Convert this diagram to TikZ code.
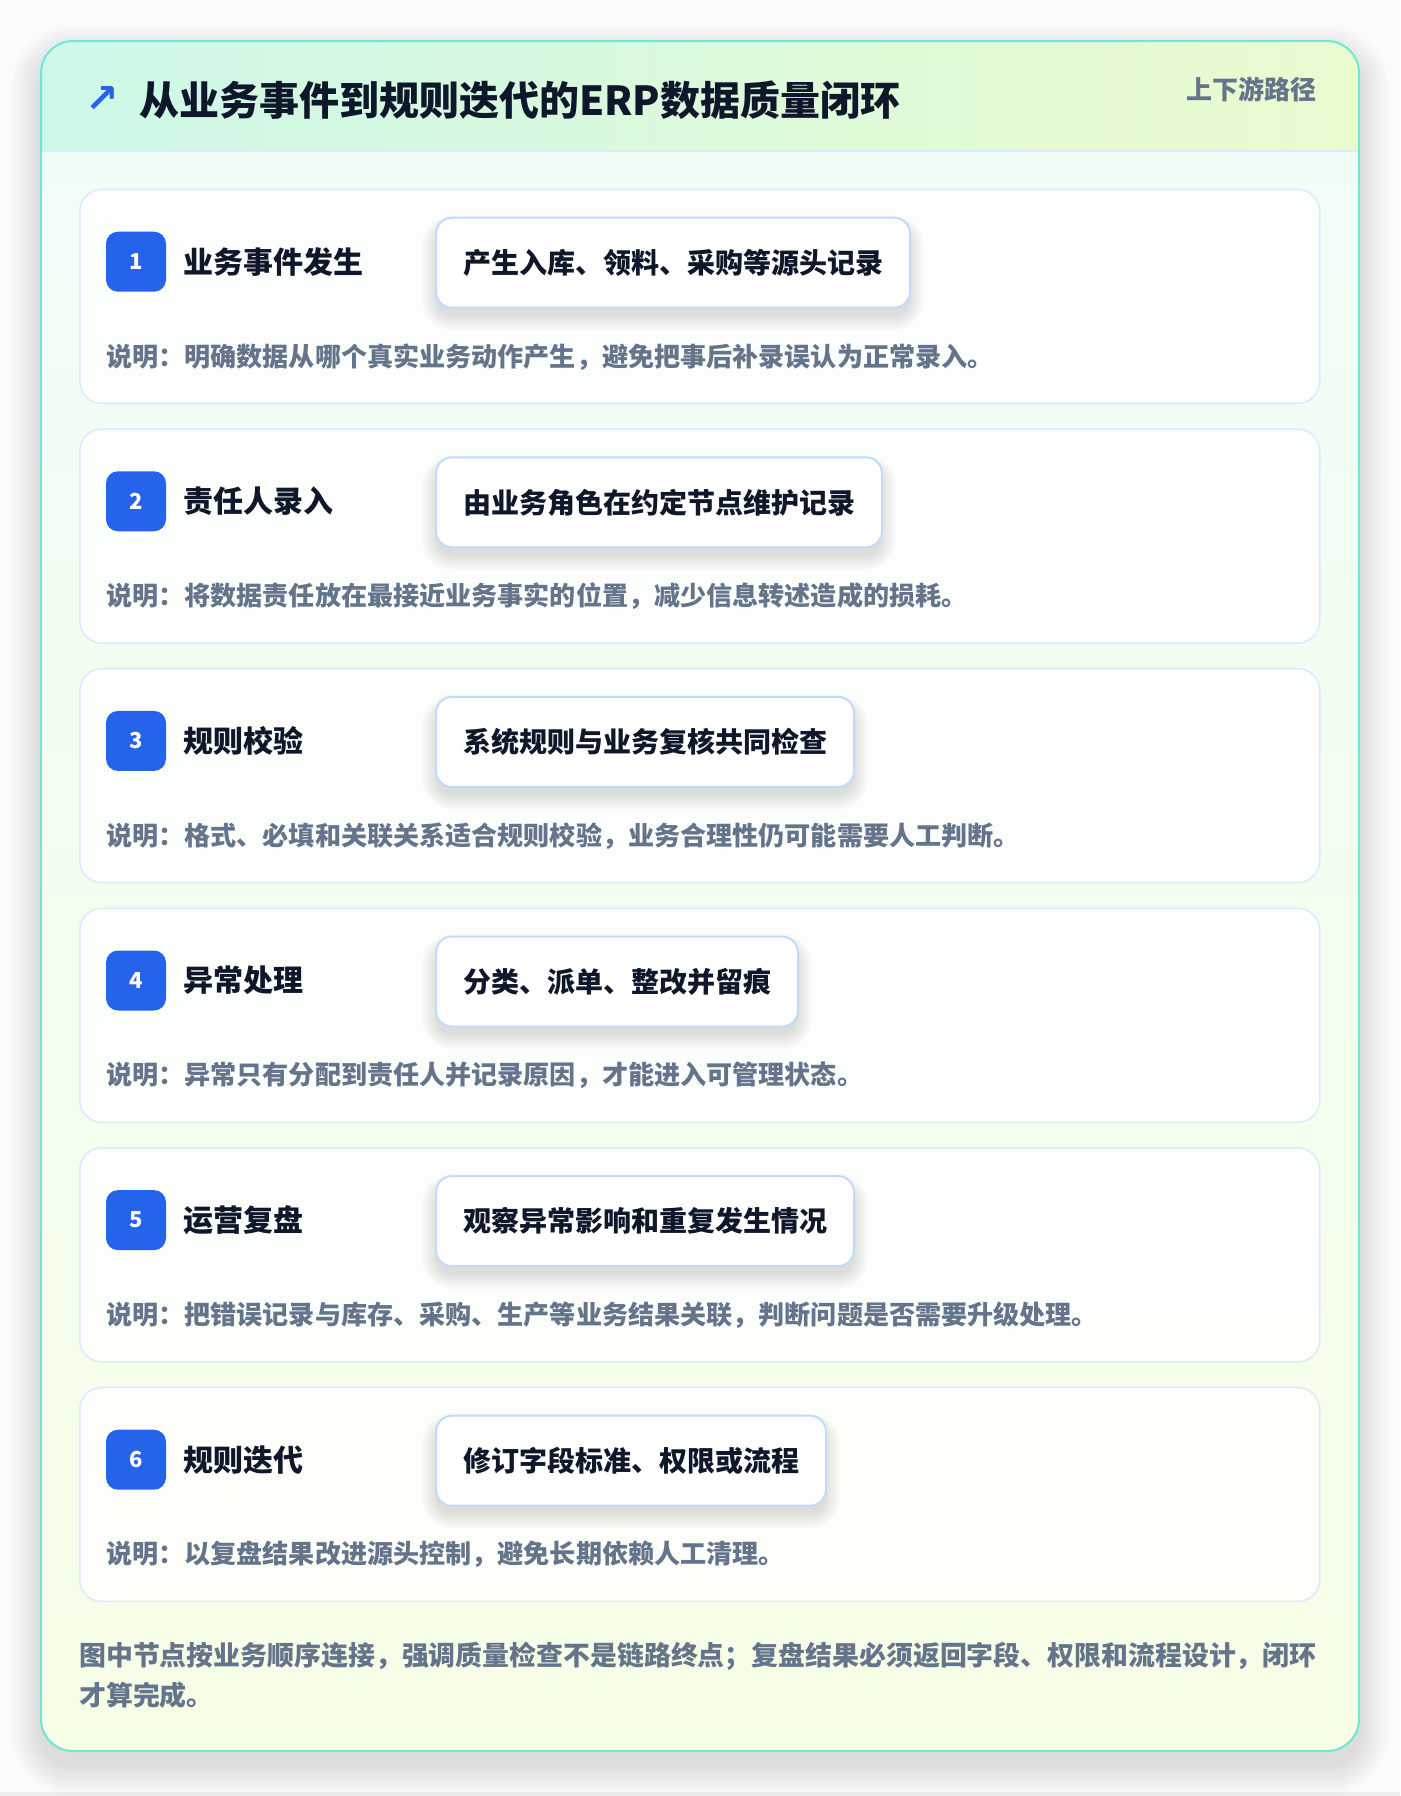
\documentclass[tikz,border=0pt]{standalone}
\usepackage{fontspec}
\setmainfont{Noto Sans CJK SC}
\newfontfamily\symfont{DejaVu Sans}
\usetikzlibrary{calc}

\definecolor{pagebg}{HTML}{FBFBFC}
\definecolor{framec}{HTML}{6EE7D3}
\definecolor{headl}{HTML}{CDF8E8}
\definecolor{headr}{HTML}{EAFBCF}
\definecolor{bodyt}{HTML}{F0FDF8}
\definecolor{bodyb}{HTML}{F6FEE6}
\definecolor{cardline}{HTML}{DBEAFE}
\definecolor{boxline}{HTML}{BFDBFE}
\definecolor{badgec}{HTML}{2563EB}
\definecolor{inkc}{HTML}{0F172A}
\definecolor{descc}{HTML}{64748B}

\pgfdeclarelayer{bg}
\pgfdeclarelayer{shade}
\pgfsetlayers{bg,shade,main}

\tikzset{
  stepcard/.style={draw=cardline, line width=1.5pt, fill=white, fill opacity=0.8,
    rounded corners=22pt, minimum width=1240pt, minimum height=214pt,
    anchor=north west, inner sep=0pt},
  badge/.style={fill=badgec, text=white, rounded corners=12pt, minimum size=60pt,
    inner sep=0pt, font=\bfseries\fontsize{22pt}{22pt}\selectfont},
  steptitle/.style={anchor=west, inner sep=0pt, text=inkc,
    font=\bfseries\fontsize{30pt}{36pt}\selectfont},
  actionbox/.style={anchor=north west, draw=boxline, line width=2pt, fill=white,
    rounded corners=16pt, minimum height=90pt, inner xsep=27pt, text=inkc,
    font=\bfseries\fontsize{28pt}{34pt}\selectfont},
  stepdesc/.style={anchor=west, inner sep=0pt, text=descc,
    font=\bfseries\fontsize{26.1pt}{32pt}\selectfont},
  softshade/.style={fill=black, opacity=0.006},
}

\begin{document}
\begin{tikzpicture}[x=1pt,y=-1pt]
\useasboundingbox (0,0) rectangle (1400,1796);
\begin{pgfonlayer}{bg}
\fill[pagebg] (0,0) rectangle (1400,1796);
\fill[black!7] (0,1792) rectangle (1400,1796);

% soft shadow of the outer card
\foreach \k in {2,4,...,30} {
  \pgfmathsetmacro\rr{32+\k}
  \fill[black, opacity=0.006, rounded corners=\rr pt]
    (41-\k,41-\k+14) rectangle (1359+\k,1751+\k+14);
}

% outer card
\shade[top color=bodyt, bottom color=bodyb, rounded corners=32pt]
  (41,41) rectangle (1359,1751);
\begin{scope}
  \clip[rounded corners=32pt] (41,41) rectangle (1359,1751);
  \shade[left color=headl, right color=headr] (41,41) rectangle (1359,151);
\end{scope}
\draw[cardline, line width=2pt] (41,151) -- (1359,151);
\draw[framec, line width=2pt, rounded corners=32pt] (41,41) rectangle (1359,1751);
\end{pgfonlayer}

% header
\node[text=badgec, inner sep=0pt, font=\symfont\bfseries\fontsize{40pt}{40pt}\selectfont]
  (arrow) at (102,100) {↗};
\node[anchor=west, inner sep=0pt, text=inkc, font=\bfseries\fontsize{40pt}{46pt}\selectfont]
  (title) at (139,100) {从业务事件到规则迭代的ERP数据质量闭环};
\node[anchor=east, inner sep=0pt, text=descc, font=\bfseries\fontsize{26pt}{30pt}\selectfont]
  (route) at (1317,89) {上下游路径};

% steps
\foreach \i/\ttl/\act/\desc in {
  1/{业务事件发生}/{产生入库、领料、采购等源头记录}/{说明：明确数据从哪个真实业务动作产生，避免把事后补录误认为正常录入。},
  2/{责任人录入}/{由业务角色在约定节点维护记录}/{说明：将数据责任放在最接近业务事实的位置，减少信息转述造成的损耗。},
  3/{规则校验}/{系统规则与业务复核共同检查}/{说明：格式、必填和关联关系适合规则校验，业务合理性仍可能需要人工判断。},
  4/{异常处理}/{分类、派单、整改并留痕}/{说明：异常只有分配到责任人并记录原因，才能进入可管理状态。},
  5/{运营复盘}/{观察异常影响和重复发生情况}/{说明：把错误记录与库存、采购、生产等业务结果关联，判断问题是否需要升级处理。},
  6/{规则迭代}/{修订字段标准、权限或流程}/{说明：以复盘结果改进源头控制，避免长期依赖人工清理。}} {
  \pgfmathsetmacro\top{188.7+239.6*(\i-1)}
  \begin{pgfonlayer}{bg}
    \node[stepcard] (card\i) at (79,\top) {};
  \end{pgfonlayer}
  \node[badge] (badge\i) at (136,\top+73) {\i};
  \node[steptitle] (name\i) at (183,\top+73) {\ttl};
  \node[actionbox] (act\i) at (435,\top+28) {\act};
  \node[stepdesc] (desc\i) at (106,\top+168) {\desc};
  \begin{pgfonlayer}{shade}
    \foreach \k in {1,...,16} {
      \pgfmathsetmacro\rr{14+\k}
      \fill[softshade, rounded corners=\rr pt]
        ($(act\i.north west)+(-\k+3,-\k+14)$) rectangle ($(act\i.south east)+(\k-3,\k+6)$);
    }
  \end{pgfonlayer}
}

% footer
\node[anchor=north west, inner sep=0pt, align=left, text=descc,
  font=\bfseries\fontsize{26.9pt}{40pt}\selectfont] (note) at (79,1642)
  {图中节点按业务顺序连接，强调质量检查不是链路终点；复盘结果必须返回字段、权限和流程设计，闭环\\才算完成。};
\end{tikzpicture}
\end{document}
